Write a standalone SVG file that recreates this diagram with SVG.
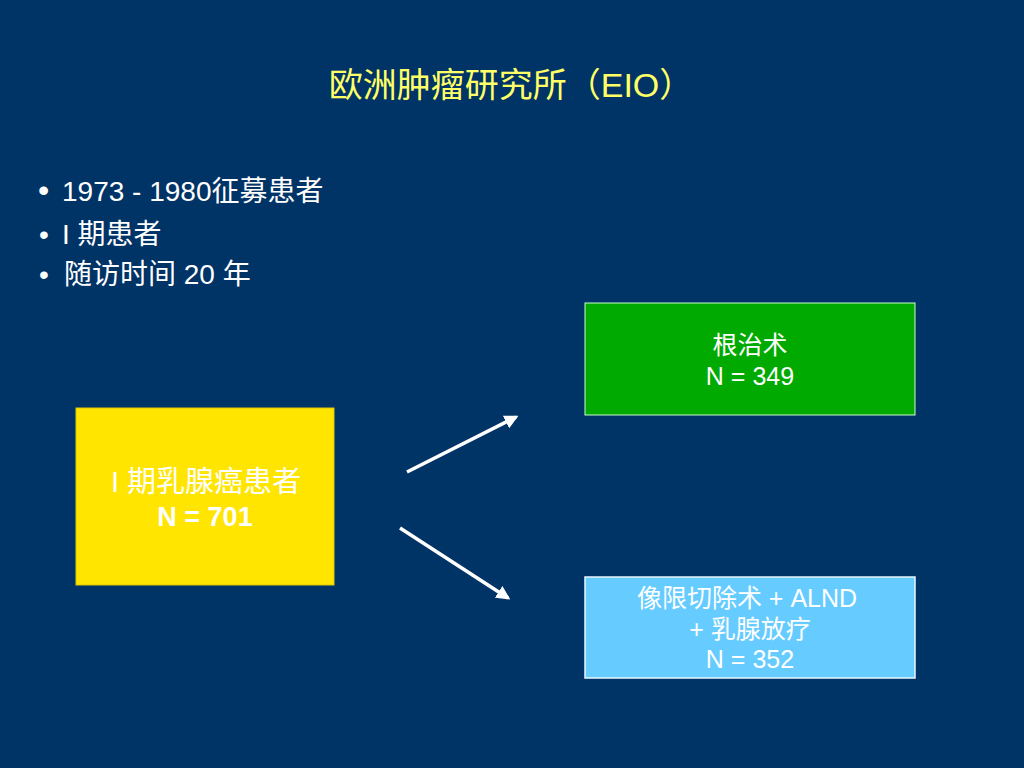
<svg xmlns="http://www.w3.org/2000/svg" width="1024" height="768" viewBox="0 0 1024 768">
<style>
text{font-family:"Liberation Sans","Noto Sans CJK SC",sans-serif}
.t{fill:#FFFF66;font-size:34px}
.b{fill:#FFFFFF;font-size:28px}
.n{fill:#FFFFFF;font-size:25px;text-anchor:middle}
.c{stroke:#FFFFFF;stroke-width:3.5;fill:none;marker-end:url(#ah)}
</style>
<defs>
<marker id="ah" viewBox="0 0 10 10" refX="8" refY="5" markerWidth="4" markerHeight="4" orient="auto" markerUnits="strokeWidth">
<path d="M0,0 L10,5 L0,10 z" fill="#FFFFFF"/>
</marker>
</defs>
<rect width="1024" height="768" fill="#003366"/>
<text class="t" x="511" y="97" text-anchor="middle">欧洲肿瘤研究所（EIO）</text>
<g id="bullets">
<text class="b" x="38" y="201" style="font-size:32px">•</text><text class="b" x="62" y="201">1973 - 1980征募患者</text>
<text class="b" x="39" y="244">•</text><text class="b" x="62" y="244">I 期患者</text>
<text class="b" x="39" y="284">•</text><text class="b" x="64" y="284">随访时间 20 年</text>
</g>
<g id="node-source">
<rect x="76" y="408" width="258" height="177" fill="#FFE500" stroke="#E0C800" stroke-width="1"/>
<text class="n" x="206" y="492" style="font-size:29px">I 期乳腺癌患者</text>
<text class="n" x="205" y="526" style="font-size:27px;font-weight:bold">N = 701</text>
</g>
<g id="node-radical">
<rect x="585" y="303" width="330" height="112" fill="#00AA00" stroke="#CCFFCC" stroke-width="1"/>
<text class="n" x="750" y="354">根治术</text>
<text class="n" x="750" y="385">N = 349</text>
</g>
<g id="node-quad">
<rect x="585" y="577" width="330" height="101" fill="#66CCFF" stroke="#E6F7FF" stroke-width="1.5"/>
<text class="n" x="747" y="607">像限切除术 + ALND</text>
<text class="n" x="750" y="638">+ 乳腺放疗</text>
<text class="n" x="750" y="668">N = 352</text>
</g>
<g id="connectors">
<line class="c" x1="407" y1="472" x2="516" y2="417"/>
<line class="c" x1="400" y1="528" x2="508" y2="598"/>
</g>
</svg>
